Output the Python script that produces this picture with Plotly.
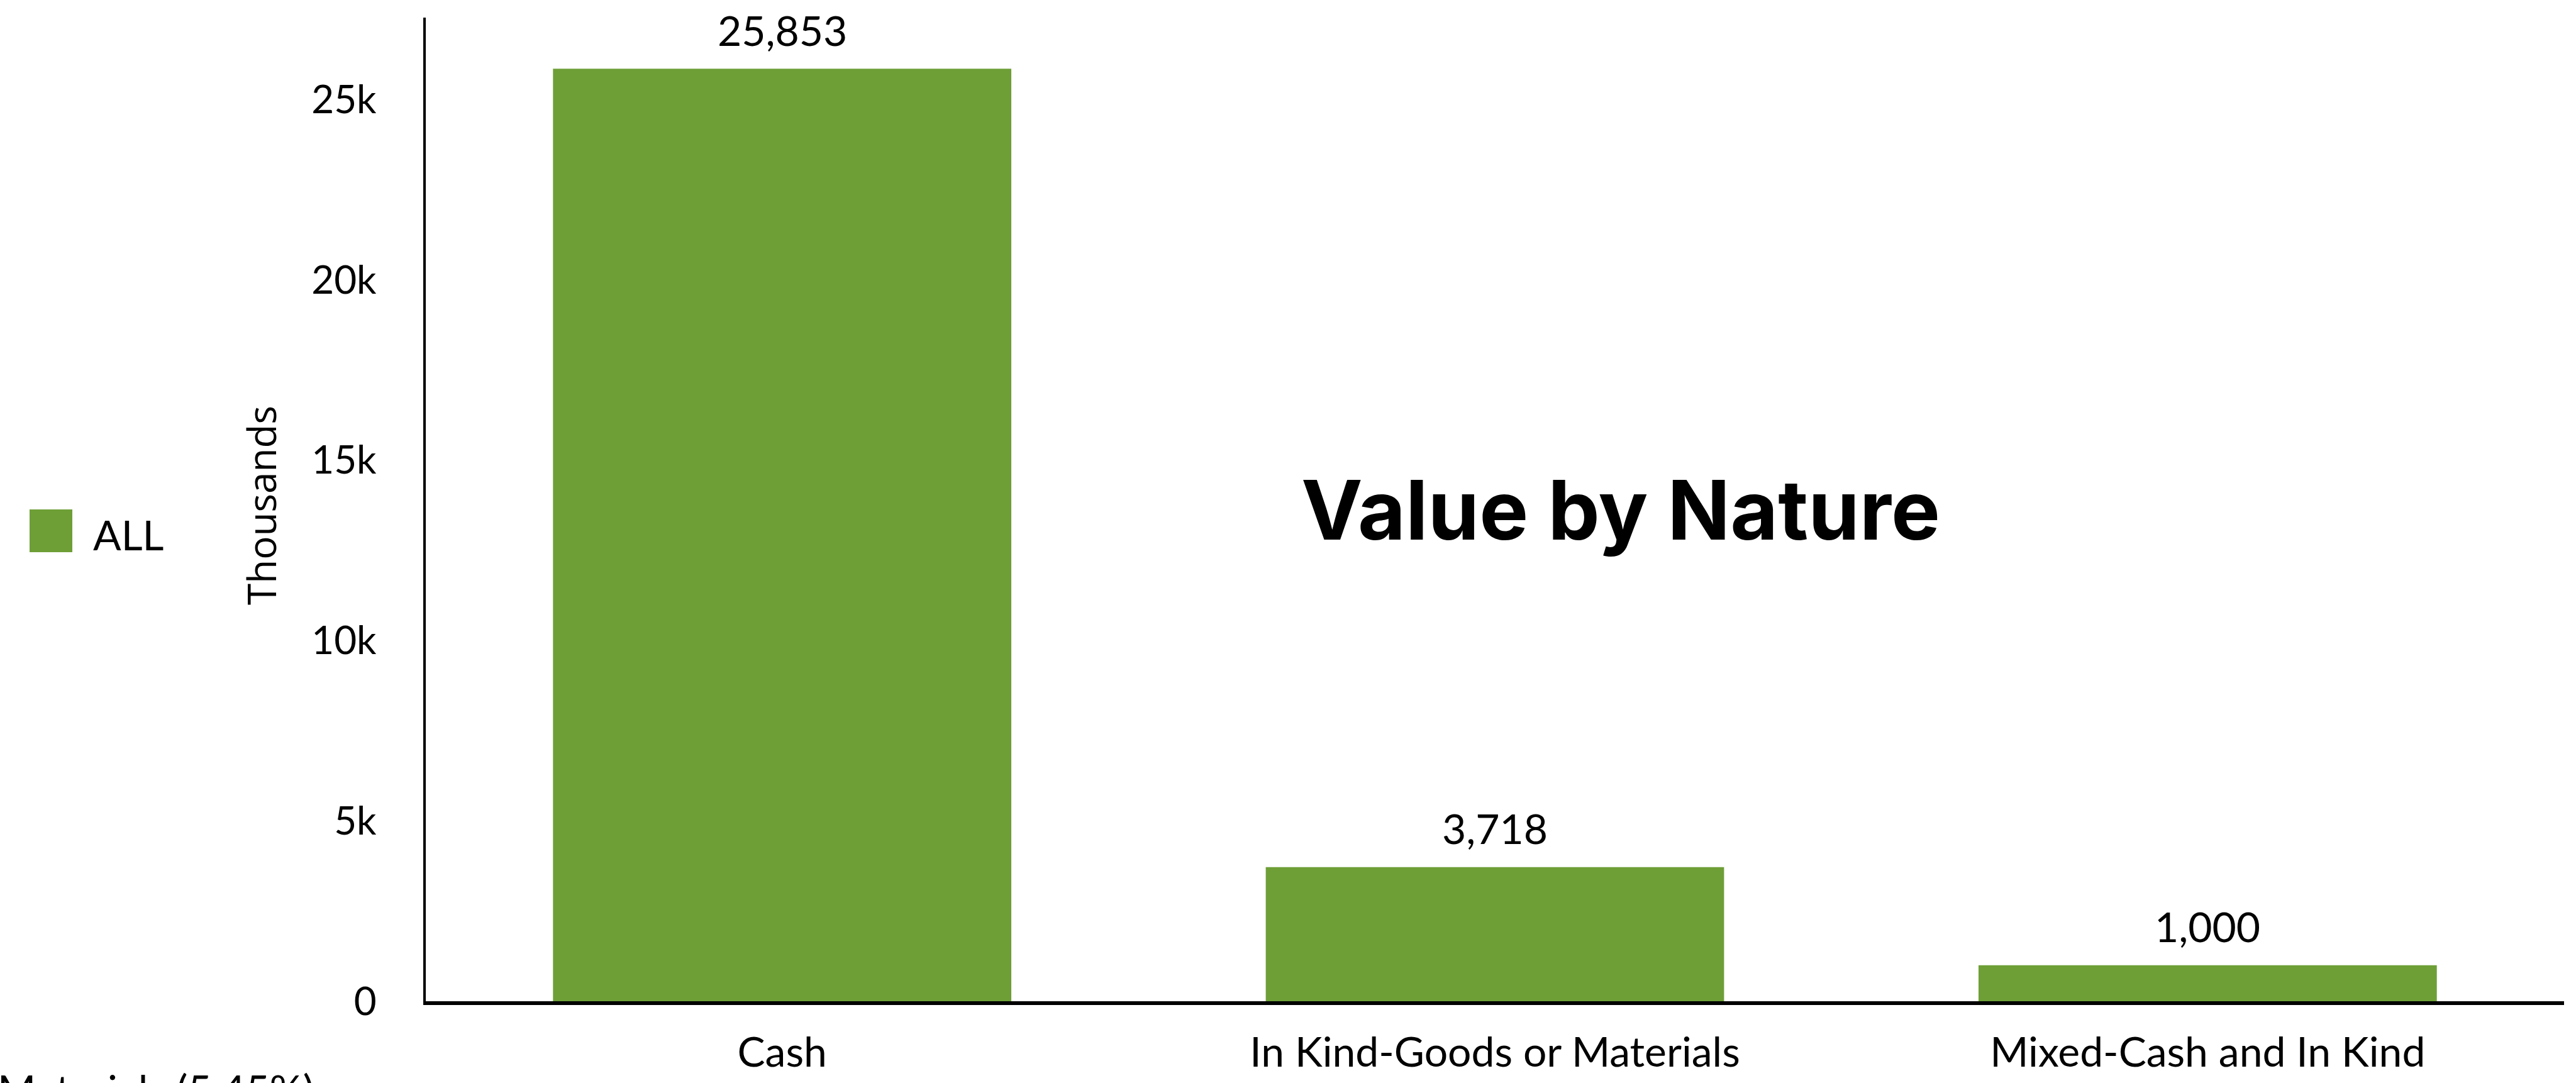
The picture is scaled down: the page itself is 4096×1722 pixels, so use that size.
import plotly.graph_objects as go

# ---- data ----
categories = ["Cash", "In Kind-Goods or Materials", "Mixed-Cash and In Kind"]
values = [25853, 3718, 1000]
series_name = "ALL"
y_tick_values = [0, 5000, 10000, 15000, 20000, 25000]
y_tick_text = ["0", "5k", "10k", "15k", "20k", "25k"]
title_text = "Value by Nature"
y_axis_title = "Thousands"
stray_label = "Materials (5.45%)"

# ---- style ----
GREEN = "#6E9F37"
W, H = 4096, 1722
ML, MR, MT, MB = 677, 19, 28, 130
PW = W - ML - MR
PH = H - MT - MB


def px_x(px):
    return (px - ML) / PW


def px_y(py):
    return (H - MB - py) / PH


FONT = "Lato"

fig = go.Figure()
fig.add_trace(go.Bar(
    x=categories, y=values, name=series_name,
    marker=dict(color=GREEN, line=dict(width=0)),
    showlegend=False,
))

# value labels above bars
for c, v in zip(categories, values):
    fig.add_annotation(
        x=c, y=v, xref="x", yref="y", text=f"{v:,}", showarrow=False,
        yanchor="middle", yshift=62,
        font=dict(family=FONT, size=66, color="black"),
    )

# title in the plot
fig.add_annotation(
    x=px_x(2577), y=px_y(810), xref="paper", yref="paper",
    text=f"<b>{title_text}</b>", showarrow=False,
    xanchor="center", yanchor="middle",
    font=dict(family="Inter", size=131, color="black"),
)

# y axis title
fig.add_annotation(
    x=px_x(415), y=px_y(804), xref="paper", yref="paper",
    text=y_axis_title, showarrow=False, textangle=-90,
    xanchor="center", yanchor="middle",
    font=dict(family="Open Sans", size=62, color="black"),
)

# manual legend
fig.add_shape(
    type="rect", xref="paper", yref="paper",
    x0=px_x(47), x1=px_x(115), y0=px_y(878), y1=px_y(810),
    fillcolor=GREEN, line=dict(width=0),
)
fig.add_annotation(
    x=px_x(146), y=px_y(849), xref="paper", yref="paper",
    text=series_name, showarrow=False, xanchor="left", yanchor="middle",
    font=dict(family=FONT, size=66, color="black"),
)

# stray label cut off at the bottom-left
fig.add_annotation(
    x=px_x(501), y=px_y(1731), xref="paper", yref="paper",
    text=stray_label, showarrow=False, xanchor="right", yanchor="middle",
    font=dict(family=FONT, size=66, color="black"),
)

fig.update_layout(
    width=W, height=H,
    margin=dict(l=ML, r=MR, t=MT, b=MB, pad=0),
    paper_bgcolor="white", plot_bgcolor="white",
    bargap=0.357,
    font=dict(family=FONT, size=66, color="black"),
)
fig.update_xaxes(
    type="category", range=[-0.5, 2.5],
    showline=True, linecolor="black", linewidth=6,
    showgrid=False, zeroline=False, ticks="",
    tickfont=dict(family=FONT, size=66, color="black"),
    ticklabelstandoff=19,
)
fig.update_yaxes(
    range=[0, 27270], tickvals=y_tick_values, ticktext=y_tick_text,
    showline=True, linecolor="black", linewidth=4,
    showgrid=False, zeroline=False, ticks="",
    tickfont=dict(family=FONT, size=62, color="black"),
    ticklabelstandoff=62,
)

fig.write_html("out.html")
